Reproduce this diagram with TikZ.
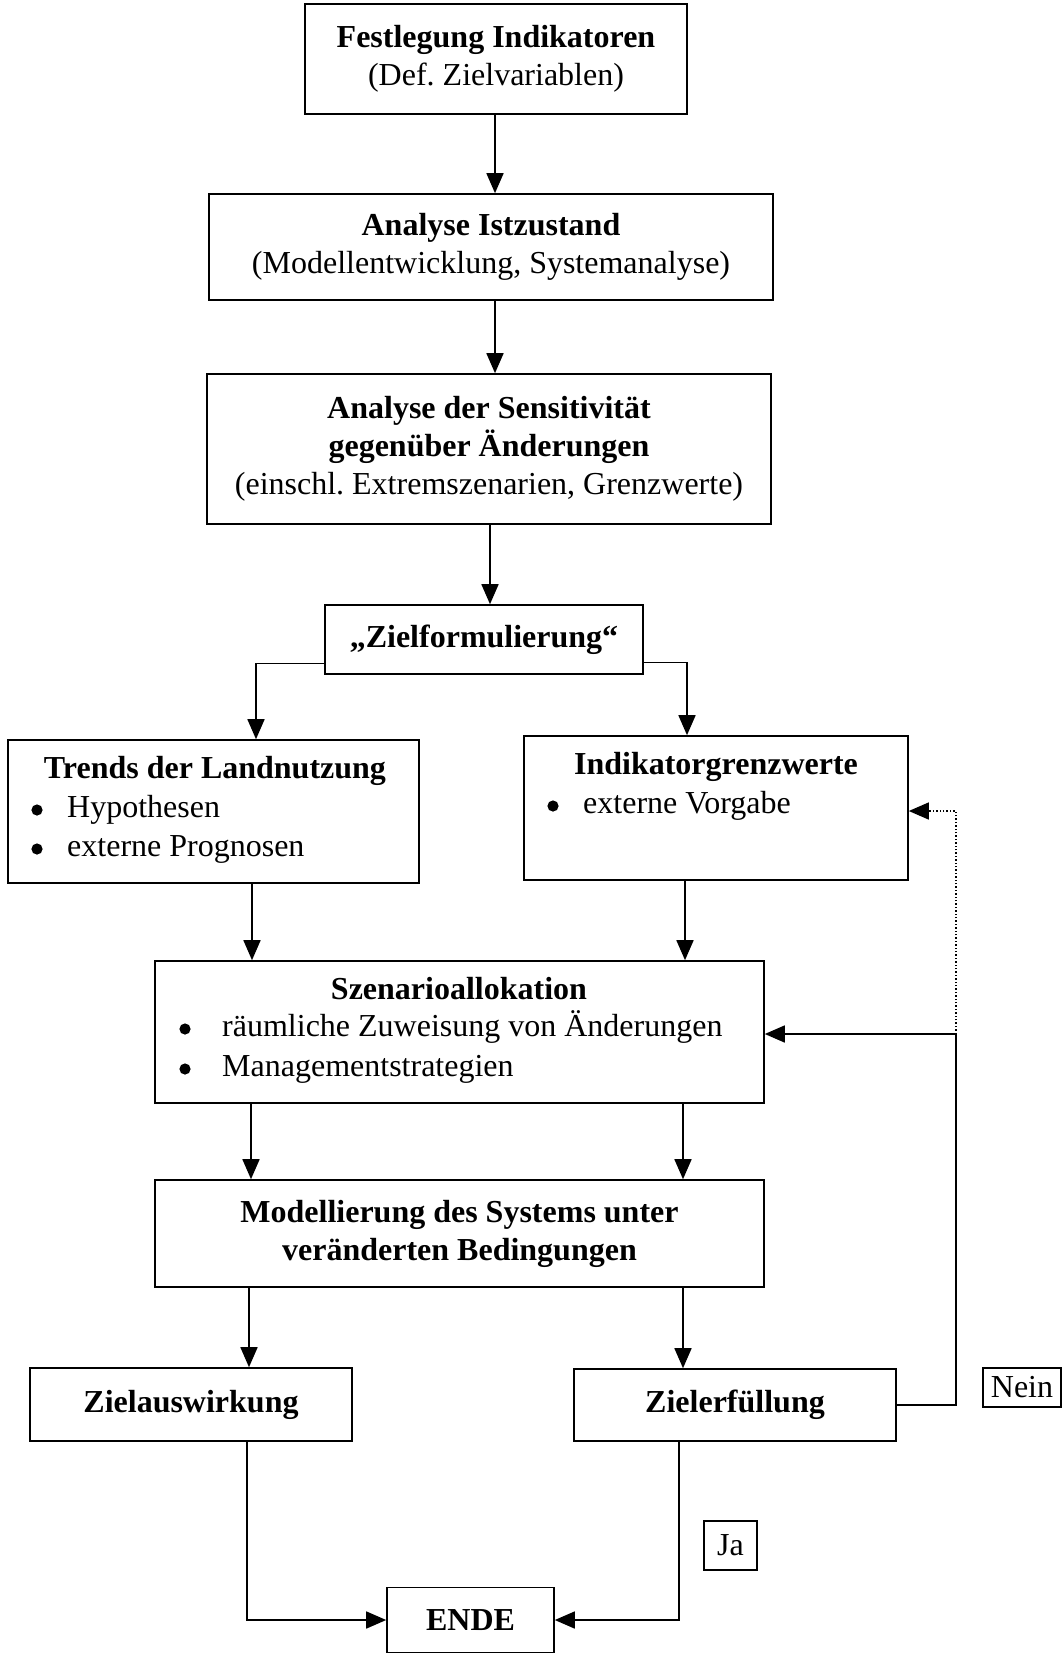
\documentclass[tikz,border=0pt]{standalone}
\usepackage{fontspec}
\setmainfont{Liberation Serif}
\usetikzlibrary{arrows.meta}
\newcommand\fsz{\fontsize{32}{38}\selectfont}
\frenchspacing
\begin{document}
\begin{tikzpicture}[x=1pt,y=-1pt,
  box/.style={draw=black, line width=1.6pt, inner sep=0pt, align=center, font=\fsz},
  smallbox/.style={draw=black, line width=1.2pt, inner sep=0pt, align=center, font=\fsz},
  txt/.style={inner sep=0pt, font=\fsz, text height=22pt, text depth=7pt},
  arr/.style={draw=black, line width=1.6pt, -{Triangle[width=17pt,length=20pt]}},
  dotarr/.style={draw=black, line width=1.4pt, dotted, -{Triangle[width=17pt,length=20pt]}},
  bul/.style={fill=black}]
\useasboundingbox (0,0) rectangle (1062,1654);

% boxes
\node[box, minimum width=382pt, minimum height=110pt] (b1) at (496,59)
  {\textbf{Festlegung Indikatoren}\\(Def. Zielvariablen)};
\node[box, minimum width=564pt, minimum height=106pt] (b2) at (491,247)
  {\textbf{Analyse Istzustand}\\(Modellentwicklung, Systemanalyse)};
\node[box, minimum width=564pt, minimum height=150pt] (b3) at (489,449)
  {\textbf{Analyse der Sensitivität}\\\textbf{gegenüber Änderungen}\\(einschl. Extremszenarien, Grenzwerte)};
\node[box, minimum width=318pt, minimum height=69pt] (zf) at (484,639.5)
  {\textbf{„Zielformulierung“}};
\node[box, minimum width=411pt, minimum height=143pt] (tr) at (213.5,811.5) {};
\node[box, minimum width=384pt, minimum height=144pt] (ind) at (716,808) {};
\node[box, minimum width=609pt, minimum height=142pt] (sz) at (459.5,1032) {};
\node[box, minimum width=609pt, minimum height=107pt] (mod) at (459.5,1233.5)
  {\textbf{Modellierung des Systems unter}\\\textbf{veränderten Bedingungen}};
\node[box, minimum width=322pt, minimum height=73pt] (za) at (191,1404.5)
  {\textbf{Zielauswirkung}};
\node[box, minimum width=322pt, minimum height=72pt] (ze) at (735,1405)
  {\textbf{Zielerfüllung}};
\node[box, minimum width=167pt, minimum height=65pt] (ende) at (470.5,1620)
  {\textbf{ENDE}};
\node[smallbox, minimum width=53pt, minimum height=49pt] (ja) at (730.5,1545.5) {Ja};
\node[smallbox, minimum width=78pt, minimum height=39pt] (nein) at (1022,1387.5) {Nein};

% texts inside bullet boxes
\node[txt] (trT) at (215,771) {\textbf{Trends der Landnutzung}};
\fill[bul] (37,810) circle (5.6);
\node[txt, anchor=west] (trA) at (67,810) {Hypothesen};
\fill[bul] (37,849) circle (5.6);
\node[txt, anchor=west] (trB) at (67,849) {externe Prognosen};

\node[txt] (indT) at (716,767) {\textbf{Indikatorgrenzwerte}};
\fill[bul] (553,806) circle (5.6);
\node[txt, anchor=west] (indA) at (583,806) {externe Vorgabe};

\node[txt] (szT) at (459,992) {\textbf{Szenarioallokation}};
\fill[bul] (185,1029) circle (5.6);
\node[txt, anchor=west] (szA) at (222,1029) {räumliche Zuweisung von Änderungen};
\fill[bul] (185,1069) circle (5.6);
\node[txt, anchor=west] (szB) at (222,1069) {Managementstrategien};

% columns
\coordinate (c1) at (495,0);
\coordinate (c2) at (490,0);
\coordinate (cL1) at (256,0);
\coordinate (cR1) at (687,0);
\coordinate (cL2) at (252,0);
\coordinate (cR2) at (685,0);
\coordinate (cL3) at (251,0);
\coordinate (cR3) at (683,0);
\coordinate (cL4) at (249,0);
\coordinate (cL5) at (247,0);
\coordinate (cR5) at (679,0);
\coordinate (lp) at (956,1034);

% connectors
\draw[arr] (b1.south -| c1) -- (b2.north -| c1);
\draw[arr] (b2.south -| c1) -- (b3.north -| c1);
\draw[arr] (b3.south -| c2) -- (zf.north -| c2);
\draw[arr] ([yshift=-24pt]zf.west) -| (tr.north -| cL1);
\draw[arr] ([yshift=-23pt]zf.east) -| (ind.north -| cR1);
\draw[arr] (tr.south -| cL2) -- (sz.north -| cL2);
\draw[arr] (ind.south -| cR2) -- (sz.north -| cR2);
\draw[arr] (sz.south -| cL3) -- (mod.north -| cL3);
\draw[arr] (sz.south -| cR3) -- (mod.north -| cR3);
\draw[arr] (mod.south -| cL4) -- (za.north -| cL4);
\draw[arr] (mod.south -| cR3) -- (ze.north -| cR3);
\draw[arr] (za.south -| cL5) |- (ende.west);
\draw[arr] (ze.south -| cR5) |- (ende.east);
\draw[arr] (ze.east) -| (lp) -- (lp -| sz.east);
\draw[dotarr] (lp) |- ([yshift=-3pt]ind.east);
\end{tikzpicture}
\end{document}
